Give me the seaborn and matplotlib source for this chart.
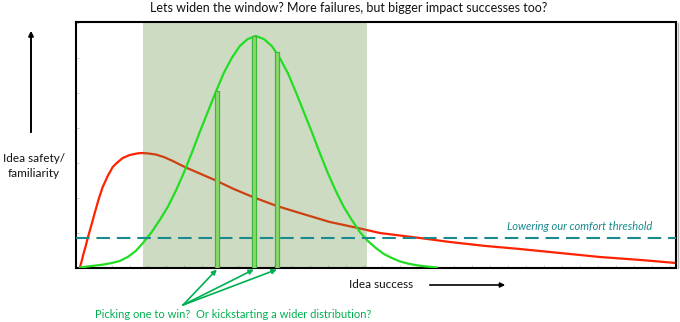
import matplotlib
matplotlib.use("Agg")
import matplotlib.pyplot as plt
from matplotlib.patches import FancyArrowPatch
from matplotlib.lines import Line2D
import seaborn as sns
import pandas as pd

# ---- data (x = idea success, y = safety/familiarity) ----
red_x = [4, 6, 8, 10, 12, 14, 16, 19, 23, 27, 32, 37, 41, 47, 54, 61, 66, 72, 80, 88,
         96, 109, 124, 139, 158, 177, 201, 224, 254, 282, 304, 344, 374, 410, 444,
         484, 524, 565, 600]
red_y = [0, 7, 15, 22, 30, 37, 44, 55, 69, 81, 92, 101, 105, 110, 113, 114.5, 115,
         114.6, 113.5, 111, 107.5, 101, 94.5, 88, 79, 71, 62, 55, 46, 40, 35, 30, 26,
         22, 19, 15, 11, 8, 5]

green_x = [4, 12, 20, 28, 36, 44, 52, 60, 68, 76, 84, 92, 100, 108, 116, 124, 132,
           140, 148, 156, 164, 172, 180, 188, 196, 204, 212, 220, 228, 236, 244, 252,
           260, 268, 276, 284, 292, 300, 308, 316, 324, 332, 340, 348, 361]
green_y = [0.5, 1.5, 2.5, 3.5, 5, 7, 11, 17, 26, 36, 48, 61, 77, 95, 115, 136, 156,
           176, 195, 210, 222, 229, 232, 229, 222, 210, 195, 176, 156, 136, 115, 95,
           77, 61, 48, 36, 27, 20, 14, 10, 6.6, 4.4, 2.9, 1.8, 0.5]

pick_x = [141, 178, 201]
pick_h = [177, 232, 216]

window = (67, 291)
threshold = 30

title = "Lets widen the window? More failures, but bigger impact successes too?"
ylabel = "Idea safety/\nfamiliarity"
xlabel = "Idea success"
thr_label = "Lowering our comfort threshold"
pick_label = "Picking one to win?  Or kickstarting a wider distribution?"

# ---- style ----
sns.set_theme(style="white")
plt.rcParams["font.family"] = ["Lato", "DejaVu Sans"]

W, H = 680, 322
fig = plt.figure(figsize=(6.8, 3.22), dpi=100)
ax = fig.add_axes([75.7 / W, (H - 268) / H, (676 - 75.7) / W, (268 - 22) / H])

red_df = pd.DataFrame({"x": red_x, "y": red_y})
green_df = pd.DataFrame({"x": green_x, "y": green_y})

sns.lineplot(data=red_df, x="x", y="y", ax=ax, color="#ff2200", lw=1.6,
             sort=False, zorder=1)
ax.axvspan(window[0], window[1], color="#5b8a3a", alpha=0.30, lw=0, zorder=2)
sns.lineplot(data=green_df, x="x", y="y", ax=ax, color="#22dd22", lw=1.6,
             sort=False, zorder=3)
ax.axhline(threshold, color="#1a8a8e", lw=1.5, dashes=(6.5, 3.3), zorder=4)
ax.bar(pick_x, pick_h, width=4, color="#8ed86a", edgecolor="#3cb83c", lw=0.9, zorder=5)

ax.set_xlim(0, 600)
ax.set_ylim(0, 246)
ax.set_xlabel("")
ax.set_ylabel("")
ax.set_xticks(range(0, 600, 18))
ax.set_yticks(range(0, 246, 35))
ax.tick_params(axis="both", direction="in", length=2.5, width=0.6,
               color="#c8c8c8", labelbottom=False, labelleft=False,
               bottom=True, left=True)
for s in ax.spines.values():
    s.set_color("black")
    s.set_linewidth(1.5)

# light shadow on the right of the frame
fig.add_artist(Line2D([678 / W, 678 / W], [(H - 268) / H, (H - 23) / H],
                      transform=fig.transFigure, color="#b0b0b0", lw=1.0))

ax.text(576, 42, thr_label, color="#1a8a8e", fontsize=8, style="italic",
        ha="right", va="center")

# picking arrows
for px in pick_x:
    ax.annotate("", xy=(px, -1.5), xycoords="data",
                xytext=(183, H - 305), textcoords="figure pixels",
                arrowprops=dict(arrowstyle="-|>", color="#00b050", lw=1.2,
                                mutation_scale=7, shrinkA=0, shrinkB=0),
                annotation_clip=False)

fig.text(95 / W, (H - 314) / H, pick_label, color="#00b050", fontsize=8,
         ha="left", va="center")

# title
fig.text(349 / W, (H - 8) / H, title, color="#111111", fontsize=9,
         ha="center", va="center")

# x axis label + arrow
fig.text(381 / W, (H - 284) / H, xlabel, color="#111111", fontsize=8.5,
         ha="center", va="center")
fig.add_artist(FancyArrowPatch(
    (427 / W, (H - 285) / H), (508 / W, (H - 285) / H), transform=fig.transFigure,
    arrowstyle="-|>", mutation_scale=7, color="black", lw=1.2))

# y axis label + arrow
fig.text(34 / W, (H - 166) / H, ylabel, color="#111111", fontsize=8.5,
         ha="center", va="center", linespacing=1.5)
fig.add_artist(FancyArrowPatch(
    (31 / W, (H - 135) / H), (31 / W, (H - 28) / H), transform=fig.transFigure,
    arrowstyle="-|>", mutation_scale=7, color="black", lw=1.4))

fig.savefig("out.png", dpi=100)
